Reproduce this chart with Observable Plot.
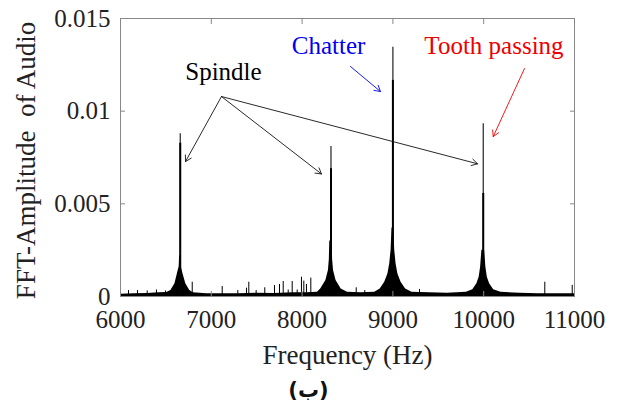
<!DOCTYPE html>
<html><head><meta charset="utf-8">
<script src="https://cdn.jsdelivr.net/npm/d3@7"></script>
<script src="https://cdn.jsdelivr.net/npm/@observablehq/plot@0.6"></script>
<style>html,body{margin:0;padding:0;background:#fff;overflow:hidden;} svg{display:block;}</style>
</head><body><div id="chart"></div>
<script>
// Axis ticks
const xTicks = [6000, 7000, 8000, 9000, 10000, 11000];
const yTicks = [0, 0.005, 0.01, 0.015];

// Spectrum envelope (noise floor + skirts around the peaks), Hz / amplitude
const envF = [6000, 6150, 6300, 6420, 6510, 6555, 6600, 6626, 6646, 6651, 6664, 6669, 6689, 6719, 6763, 6800, 6950, 7100, 7300, 7500, 7700, 7900, 8050,
  8170, 8205, 8262, 8290, 8300, 8305, 8331, 8336, 8346, 8374, 8430, 8500, 8650,
  8800, 8860, 8910, 8945, 8965, 8980, 8990, 9010, 9020, 9035, 9055, 9090, 9140, 9210, 9400, 9600,
  9810, 9880, 9925, 9950, 9966, 9980, 10010, 10024, 10040, 10065, 10110, 10190, 10400, 10600, 10800, 11000];
const envA = [0.00012, 0.00015, 0.00016, 0.0002, 0.00022, 0.00032, 0.00069, 0.00122, 0.0016, 0.0022, 0.0022, 0.0016, 0.00122, 0.00069, 0.00032, 0.0002, 0.00015, 0.00015, 0.00015, 0.00018, 0.00016, 0.0002, 0.0002,
  0.00023, 0.00041, 0.00086, 0.0014, 0.002, 0.003, 0.003, 0.002, 0.0014, 0.00086, 0.00041, 0.00023, 0.0002,
  0.00023, 0.00041, 0.00077, 0.00122, 0.00176, 0.0025, 0.0037, 0.0037, 0.0025, 0.00176, 0.00122, 0.00077, 0.00041, 0.00023, 0.0002, 0.00017,
  0.00023, 0.00036, 0.00069, 0.00104, 0.00158, 0.0025, 0.0025, 0.00158, 0.00104, 0.00069, 0.00036, 0.00023, 0.00017, 0.00015, 0.00015, 0.00015];

// Small isolated spectral lines
const spikeF = [6088, 6187, 6294, 6396, 6496, 6790, 7120, 7292, 7388, 7413, 7494, 7589, 7696, 7751, 7792, 7847, 7891, 7946, 7993, 8019, 8048, 8096, 8596, 8690, 9293, 10673, 10975];
const spikeA = [0.00032, 0.00032, 0.0003, 0.00035, 0.0003, 0.00077, 0.00054, 0.00032, 0.00045, 0.00077, 0.00032, 0.00047, 0.00059, 0.00065, 0.00081, 0.00035, 0.00081, 0.00035, 0.00104, 0.00083, 0.00065, 0.00099, 0.00047, 0.00032, 0.00038, 0.00077, 0.0006];

// Main peaks
const peakF = [6658, 8318, 9000, 9995];
const peakTop = [0.00878, 0.0081, 0.01345, 0.00932];
const peakCore = [0.00827, 0.0069, 0.01166, 0.00556];

// Annotations
const annoText = ["Spindle", "Chatter", "Tooth passing"];
const annoX = [7134, 8291, 10113];
const annoY = [0.01209, 0.01354, 0.01354];
const arrowX1 = [7112, 7112, 7112, 8533, 10449];
const arrowY1 = [0.01079, 0.01079, 0.01079, 0.01241, 0.0123];
const arrowX2 = [6716, 8214, 9932, 8863, 10105];
const arrowY2 = [0.00728, 0.00661, 0.00716, 0.01106, 0.00863];

const env = envF.map((f, i) => ({f, a: envA[i]}));
const spikes = spikeF.map((f, i) => ({f, a: spikeA[i]}));
const peaks = peakF.map((f, i) => ({f, top: peakTop[i], core: peakCore[i]}));
const annos = annoText.map((t, i) => ({t, x: annoX[i], y: annoY[i]}));
const arrows = arrowX1.map((x1, i) => ({x1, y1: arrowY1[i], x2: arrowX2[i], y2: arrowY2[i]}));

const serif = "'Liberation Serif', 'Times New Roman', serif";
const gray = "#888";

const chart = Plot.plot({
  width: 618, height: 407,
  marginLeft: 120, marginRight: 44, marginTop: 18, marginBottom: 111,
  style: {fontFamily: serif, fontSize: "25px", background: "white", color: "#222"},
  x: {domain: [6000, 11000]},
  y: {domain: [0, 0.015]},
  marks: [
    Plot.areaY(env, {x: "f", y: "a", fill: "black"}),
    Plot.ruleX(spikes, {x: "f", y1: 0, y2: "a", stroke: "black", strokeWidth: 1}),
    Plot.ruleX(peaks, {x: "f", y1: 0, y2: "top", stroke: "#222", strokeWidth: 1.2}),
    Plot.ruleX(peaks, {x: "f", y1: 0, y2: "core", stroke: "black", strokeWidth: 2}),
    Plot.frame({stroke: gray}),
    Plot.axisX(xTicks, {anchor: "bottom", tickSize: -5, fill: "none", stroke: gray, label: null}),
    Plot.axisX(xTicks, {anchor: "top", tickSize: -5, fill: "none", stroke: gray, label: null}),
    Plot.axisY(yTicks, {anchor: "left", tickSize: -5, fill: "none", stroke: gray, label: null}),
    Plot.axisY(yTicks, {anchor: "right", tickSize: -5, fill: "none", stroke: gray, label: null}),
    Plot.axisX(xTicks, {anchor: "bottom", tickSize: 0, tickPadding: 14, label: null, tickFormat: d => String(d), fill: "#222"}),
    Plot.axisY(yTicks, {anchor: "left", tickSize: 0, tickPadding: 10, label: null, tickFormat: d => String(d), fill: "#222"}),
    Plot.arrow(arrows.slice(0, 3), {x1: "x1", y1: "y1", x2: "x2", y2: "y2", stroke: "#111", strokeWidth: 0.9, headLength: 11, bend: 0}),
    Plot.arrow(arrows.slice(3, 4), {x1: "x1", y1: "y1", x2: "x2", y2: "y2", stroke: "#0000ee", strokeWidth: 0.9, headLength: 11, bend: 0}),
    Plot.arrow(arrows.slice(4, 5), {x1: "x1", y1: "y1", x2: "x2", y2: "y2", stroke: "#ee0000", strokeWidth: 0.9, headLength: 11, bend: 0}),
    Plot.text(annos, {x: "x", y: "y", text: "t", fontSize: 25, lineAnchor: "middle",
      fill: (d, i) => ["#000", "#0000ee", "#ee0000"][i]}),
    Plot.text(["Frequency (Hz)"], {frameAnchor: "bottom", dy: 59, fontSize: 27, textAnchor: "middle", lineAnchor: "middle", fill: "#222"}),
    Plot.text(["FFT-Amplitude\u00a0 of Audio"], {frameAnchor: "left", dx: -94, dy: 3, rotate: -90, fontSize: 27, textAnchor: "middle", lineAnchor: "middle", fill: "#222"}),
    Plot.text(["(ب)"], {frameAnchor: "bottom", dx: -39, dy: 94, fontSize: 21, fontWeight: "bold", fontFamily: "'DejaVu Sans', sans-serif", textAnchor: "middle", lineAnchor: "middle", fill: "#111"})
  ]
});
document.getElementById("chart").append(chart);
</script></body></html>
